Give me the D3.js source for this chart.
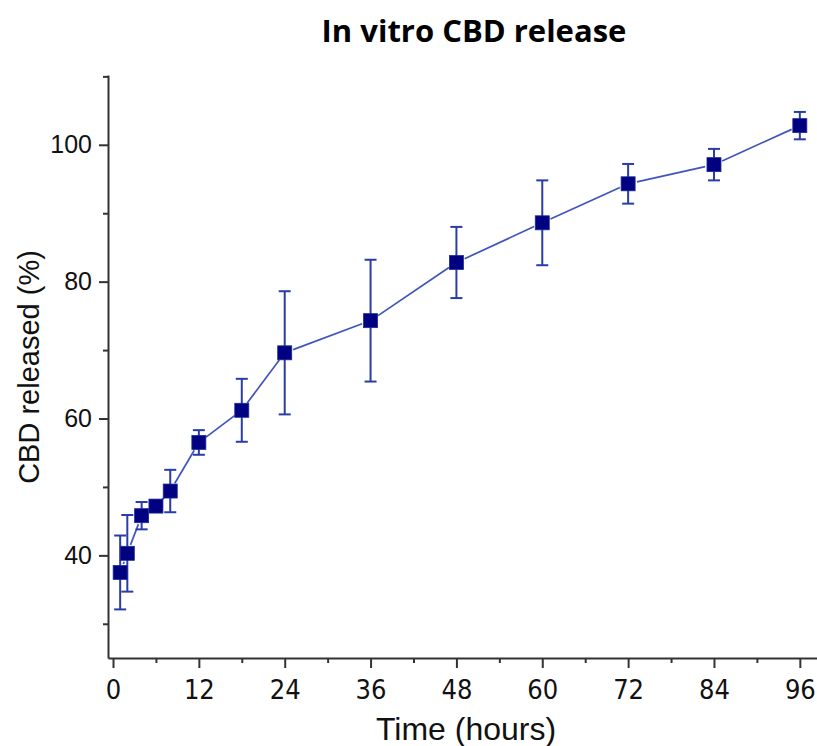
<!DOCTYPE html>
<html>
<head>
<meta charset="utf-8">
<script src="https://cdn.jsdelivr.net/npm/d3@7"></script>
<style>
  body { margin: 0; background: #fff; }
  svg { display: block; }
</style>
</head>
<body>
<svg></svg>
<script>
// time points (hours), mean release (%) and error (+/-)
const TIMES = [1, 2, 4, 6, 8, 12, 18, 24, 36, 48, 60, 72, 84, 96];
const RELEASED = [37.5, 40.3, 45.8, 47.2, 49.4, 56.5, 61.2, 69.6, 74.3, 82.8, 88.6, 94.3, 97.1, 102.8];
const ERRORS = [5.4, 5.6, 2.0, 0.6, 3.1, 1.8, 4.6, 9.0, 8.9, 5.2, 6.2, 2.9, 2.3, 2.0];

const X_TICKS = [0, 12, 24, 36, 48, 60, 72, 84, 96];
const X_MINOR = [6, 18, 30, 42, 54, 66, 78, 90];
const Y_TICKS = [40, 60, 80, 100];
const Y_MINOR = [30, 50, 70, 90, 110];

const WIDTH = 817;
const HEIGHT = 746;

const svg = d3.select('svg')
  .attr('width', WIDTH)
  .attr('height', HEIGHT);

const xScale = d3.scaleLinear().domain([-0.7, 98.4]).range([108, 817]);
const yScale = d3.scaleLinear().domain([25, 110.2]).range([658, 75]);

const data = TIMES.map((t, i) => ({ t: t, v: RELEASED[i], e: ERRORS[i] }));

const AXIS_COLOR = '#333';

// x axis
const xAxis = svg.append('g')
  .attr('transform', `translate(0, ${yScale(25)})`)
  .call(d3.axisBottom(xScale).tickValues(X_TICKS).tickSize(10).tickSizeOuter(0).tickPadding(12));
xAxis.select('.domain').attr('stroke', AXIS_COLOR).attr('stroke-width', 2);
xAxis.selectAll('.tick line').attr('stroke', AXIS_COLOR).attr('stroke-width', 2);
xAxis.selectAll('.tick text')
  .attr('fill', '#111')
  .style('font-family', '"Liberation Sans Narrow", "DejaVu Sans Condensed", "Liberation Sans", sans-serif')
  .style('font-size', '27px');

svg.append('g')
  .attr('transform', `translate(0, ${yScale(25)})`)
  .call(d3.axisBottom(xScale).tickValues(X_MINOR).tickSize(5).tickFormat(''))
  .call(g => g.select('.domain').remove())
  .selectAll('.tick line').attr('stroke', AXIS_COLOR).attr('stroke-width', 2);

// y axis
const yAxis = svg.append('g')
  .attr('transform', `translate(${xScale(-0.7)}, 0)`)
  .call(d3.axisLeft(yScale).tickValues(Y_TICKS).tickSize(9).tickSizeOuter(0).tickPadding(7));
yAxis.select('.domain').attr('stroke', AXIS_COLOR).attr('stroke-width', 2);
yAxis.selectAll('.tick line').attr('stroke', AXIS_COLOR).attr('stroke-width', 2);
yAxis.selectAll('.tick text')
  .attr('fill', '#111')
  .style('font-family', '"Liberation Sans", Arial, sans-serif')
  .style('font-size', '25px');

svg.append('g')
  .attr('transform', `translate(${xScale(-0.7)}, 0)`)
  .call(d3.axisLeft(yScale).tickValues(Y_MINOR).tickSize(5).tickFormat(''))
  .call(g => g.select('.domain').remove())
  .selectAll('.tick line').attr('stroke', AXIS_COLOR).attr('stroke-width', 2);

// connecting line, broken a little around each marker
const GAP = 9;
const segs = d3.pairs(data).map(([a, b]) => {
  const x1 = xScale(a.t), y1 = yScale(a.v), x2 = xScale(b.t), y2 = yScale(b.v);
  const len = Math.hypot(x2 - x1, y2 - y1);
  const ux = (x2 - x1) / len, uy = (y2 - y1) / len;
  return { x1: x1 + ux * GAP, y1: y1 + uy * GAP, x2: x2 - ux * GAP, y2: y2 - uy * GAP, ok: len > GAP * 2 };
}).filter(s => s.ok);

svg.append('g').selectAll('line')
  .data(segs)
  .enter()
  .append('line')
  .attr('x1', d => d.x1).attr('y1', d => d.y1)
  .attr('x2', d => d.x2).attr('y2', d => d.y2)
  .attr('stroke', '#4154bd')
  .attr('stroke-width', 1.7);

// error bars
const CAP = 6;
const err = svg.append('g').attr('stroke', '#2a3ca8').attr('stroke-width', 2);
err.selectAll('.stem')
  .data(data)
  .enter()
  .append('line')
  .attr('x1', d => xScale(d.t)).attr('x2', d => xScale(d.t))
  .attr('y1', d => yScale(d.v + d.e)).attr('y2', d => yScale(d.v - d.e));
err.selectAll('.capTop')
  .data(data)
  .enter()
  .append('line')
  .attr('x1', d => xScale(d.t) - CAP).attr('x2', d => xScale(d.t) + CAP)
  .attr('y1', d => yScale(d.v + d.e)).attr('y2', d => yScale(d.v + d.e));
err.selectAll('.capBot')
  .data(data)
  .enter()
  .append('line')
  .attr('x1', d => xScale(d.t) - CAP).attr('x2', d => xScale(d.t) + CAP)
  .attr('y1', d => yScale(d.v - d.e)).attr('y2', d => yScale(d.v - d.e));

// square markers
const M = 14;
svg.append('g').selectAll('rect')
  .data(data)
  .enter()
  .append('rect')
  .attr('x', d => xScale(d.t) - M / 2)
  .attr('y', d => yScale(d.v) - M / 2)
  .attr('width', M)
  .attr('height', M)
  .attr('fill', '#000080')
  .attr('stroke', '#1a2a9a')
  .attr('stroke-width', 0.8);

// title and axis labels
svg.append('text')
  .text('In vitro CBD release')
  .attr('x', 474)
  .attr('y', 42)
  .attr('text-anchor', 'middle')
  .attr('fill', '#000')
  .style('font-family', '"Open Sans", Lato, sans-serif')
  .style('font-weight', 'bold')
  .style('font-size', '31px');

svg.append('text')
  .text('Time (hours)')
  .attr('x', 466)
  .attr('y', 740)
  .attr('text-anchor', 'middle')
  .attr('fill', '#111')
  .style('font-family', '"Liberation Sans", Arial, sans-serif')
  .style('font-size', '32px');

svg.append('text')
  .text('CBD released (%)')
  .attr('transform', 'translate(39, 367) rotate(-90)')
  .attr('text-anchor', 'middle')
  .attr('fill', '#111')
  .style('font-family', '"Liberation Sans", Arial, sans-serif')
  .style('font-size', '29px');
</script>
</body>
</html>
